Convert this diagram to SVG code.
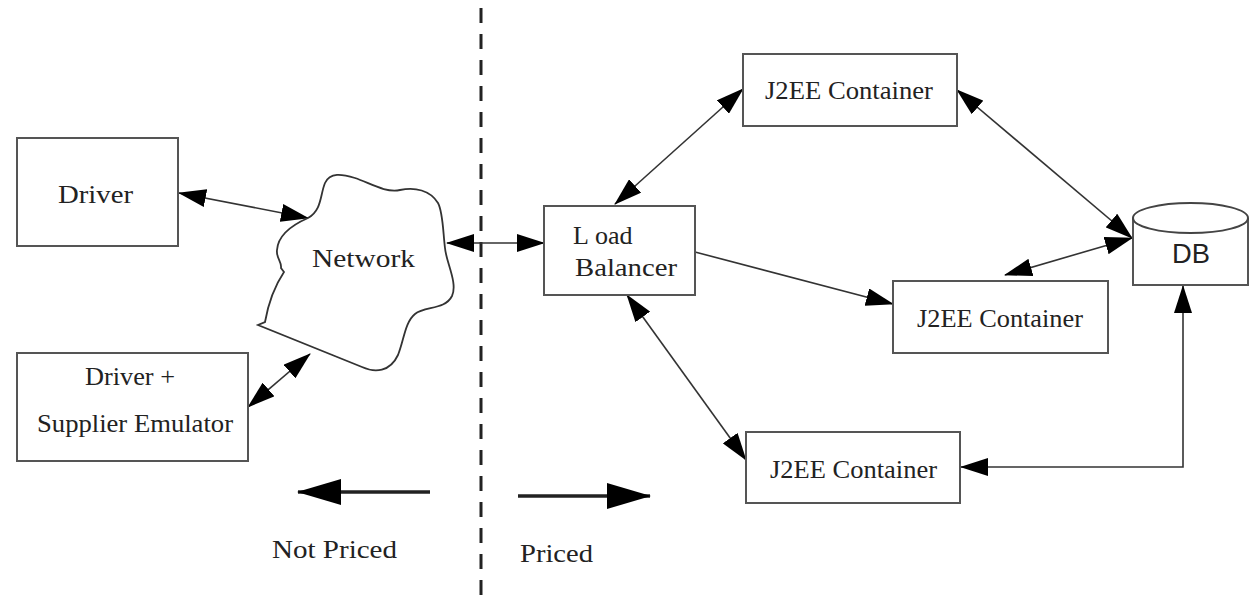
<svg xmlns="http://www.w3.org/2000/svg" width="1254" height="597" viewBox="0 0 1254 597">
  <style>
    .box { fill: #fff; stroke: #555; stroke-width: 2; }
    .lbl { font-family: "Liberation Serif", "Times New Roman", serif; font-size: 26px; fill: #222; }
    .sans { font-family: "Liberation Sans", Arial, sans-serif; font-size: 28px; fill: #222; }
    .conn { fill: none; stroke: #333; stroke-width: 1.6; }
    .legend { fill: none; stroke: #222; stroke-width: 3.5; }
  </style>
  <defs>
    <marker id="head" markerUnits="userSpaceOnUse" markerWidth="28" markerHeight="18" viewBox="0 0 28 18" refX="27" refY="9" orient="auto-start-reverse">
      <path d="M0,0 L28,9 L0,18 Z" fill="#000"/>
    </marker>
    <marker id="bighead" markerUnits="userSpaceOnUse" markerWidth="44" markerHeight="26" viewBox="0 0 44 26" refX="43" refY="13" orient="auto">
      <path d="M0,0 L44,13 L0,26 Z" fill="#000"/>
    </marker>
  </defs>
  <rect width="1254" height="597" fill="#fff"/>

  <!-- priced / not priced boundary -->
  <line x1="481" y1="8" x2="481" y2="597" stroke="#222" stroke-width="3" stroke-dasharray="15 11"/>

  <!-- connectors -->
  <g id="connectors">
    <line class="conn" x1="179" y1="193" x2="308" y2="218" marker-start="url(#head)" marker-end="url(#head)"/>
    <line class="conn" x1="248" y1="407" x2="310" y2="354" marker-start="url(#head)" marker-end="url(#head)"/>
    <line class="conn" x1="447" y1="243" x2="544" y2="243" marker-start="url(#head)" marker-end="url(#head)"/>
    <line class="conn" x1="615" y1="204" x2="743" y2="89" marker-start="url(#head)" marker-end="url(#head)"/>
    <line class="conn" x1="695" y1="252" x2="893" y2="304" marker-end="url(#head)"/>
    <line class="conn" x1="627" y1="295" x2="746" y2="460" marker-start="url(#head)" marker-end="url(#head)"/>
    <line class="conn" x1="957" y1="90" x2="1132" y2="238" marker-start="url(#head)" marker-end="url(#head)"/>
    <line class="conn" x1="1005" y1="275" x2="1132" y2="238" marker-start="url(#head)" marker-end="url(#head)"/>
    <polyline class="conn" points="961,467 1183,467 1183,286" marker-start="url(#head)" marker-end="url(#head)"/>
    <line class="legend" x1="430" y1="492" x2="298" y2="492" marker-end="url(#bighead)"/>
    <line class="legend" x1="518" y1="496" x2="650" y2="496" marker-end="url(#bighead)"/>
  </g>

  <g id="driver">
    <rect class="box" x="17" y="138" width="161" height="108"/>
    <text class="lbl" x="58" y="203" textLength="75" lengthAdjust="spacingAndGlyphs">Driver</text>
  </g>

  <g id="driver-supplier">
    <rect class="box" x="17" y="353" width="231" height="108"/>
    <text class="lbl" x="85" y="385" textLength="90" lengthAdjust="spacingAndGlyphs">Driver +</text>
    <text class="lbl" x="37" y="432" textLength="196" lengthAdjust="spacingAndGlyphs">Supplier Emulator</text>
  </g>

  <g id="network">
    <path d="M308,218 C292,225 278,235 277,250 C276,258 282,262 281,268 L284,272 C274,287 268,305 265,322 L258,325 L362,367 C375,373 390,372 398,355 C404,340 405,322 415,314 C425,306 445,310 452,296 C458,283 446,262 445,248 C443,232 443,212 438,203 C430,190 415,187 400,190 C385,193 370,183 355,178 C342,174 330,172 325,183 C320,195 322,210 308,218 Z" fill="#fff" stroke="#333" stroke-width="1.8"/>
    <text class="lbl" x="312" y="267" textLength="103" lengthAdjust="spacingAndGlyphs">Network</text>
  </g>

  <g id="load-balancer">
    <rect class="box" x="544" y="206" width="151" height="89"/>
    <text class="lbl" x="573" y="244">L<tspan dx="6">oad</tspan></text>
    <text class="lbl" x="575" y="276" textLength="102" lengthAdjust="spacingAndGlyphs">Balancer</text>
  </g>

  <g id="j2ee-top">
    <rect class="box" x="743" y="54" width="214" height="72"/>
    <text class="lbl" x="765" y="99" textLength="168" lengthAdjust="spacingAndGlyphs">J2EE Container</text>
  </g>

  <g id="j2ee-middle">
    <rect class="box" x="893" y="281" width="215" height="72"/>
    <text class="lbl" x="917" y="327" textLength="166" lengthAdjust="spacingAndGlyphs">J2EE Container</text>
  </g>

  <g id="j2ee-bottom">
    <rect class="box" x="746" y="432" width="214" height="71"/>
    <text class="lbl" x="770" y="478" textLength="167" lengthAdjust="spacingAndGlyphs">J2EE Container</text>
  </g>

  <g id="db">
    <path d="M1133,218 L1133,285 L1248,285 L1248,218" fill="#fff" stroke="#555" stroke-width="2"/>
    <ellipse cx="1190.5" cy="218" rx="57.5" ry="15" fill="#fff" stroke="#444" stroke-width="2"/>
    <text class="sans" x="1172" y="263" textLength="38" lengthAdjust="spacingAndGlyphs">DB</text>
  </g>

  <g id="legend">
    <text class="lbl" x="272" y="558" textLength="125" lengthAdjust="spacingAndGlyphs">Not Priced</text>
    <text class="lbl" x="520" y="562" textLength="73" lengthAdjust="spacingAndGlyphs">Priced</text>
  </g>
</svg>
